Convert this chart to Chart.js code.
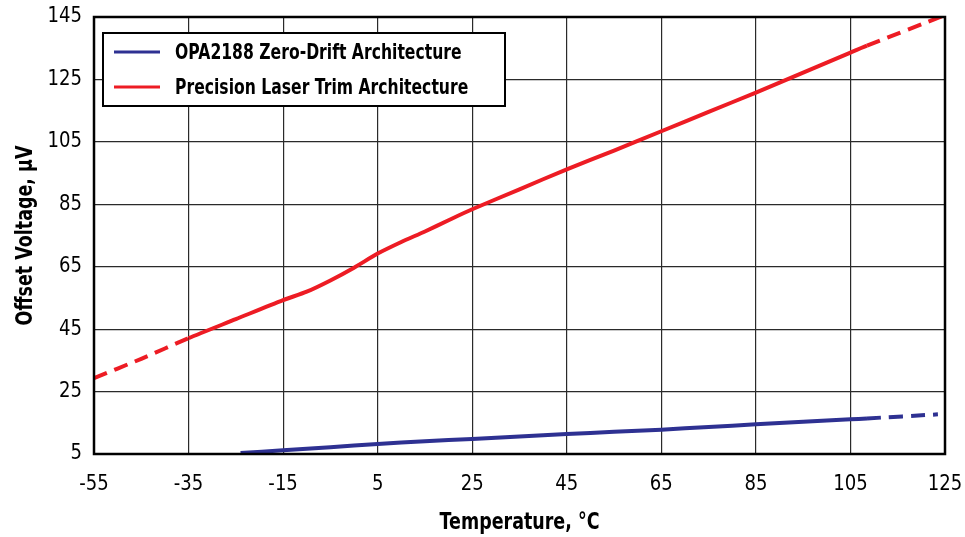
<!DOCTYPE html>
<html>
<head>
<meta charset="utf-8">
<script src="https://cdn.jsdelivr.net/npm/chart.js@4.4.1/dist/chart.umd.min.js"></script>
<style>
  html, body { margin: 0; padding: 0; background: #fff; }
  #wrap { width: 965px; height: 537px; }
</style>
</head>
<body>
<div id="wrap"><canvas id="drift"></canvas></div>
<script>
// values (temperature in °C, offset in µV)
var zeroDriftTemp = [-24, -15, -5, 5, 15, 25, 35, 45, 55, 65, 75, 85, 95, 105, 108.5, 123.5];
var zeroDriftUv   = [5.3, 6.2, 7.2, 8.2, 9.1, 9.8, 10.6, 11.4, 12.1, 12.8, 13.65, 14.5, 15.3, 16.1, 16.4, 17.7];

var laserTemp = [-55, -45, -35, -25, -15, -10, -5, 0, 5, 10, 15, 20, 25, 35, 45, 55, 65, 75, 85, 95, 105, 108.5, 125];
var laserUv   = [29.3, 35.5, 42.1, 48.2, 54.3, 57.0, 60.6, 64.7, 69.2, 72.9, 76.3, 79.9, 83.4, 89.8, 96.2, 102.2, 108.4, 114.6, 120.8, 127.2, 133.6, 135.8, 145.6];

var seriesNames = ['OPA2188 Zero-Drift Architecture', 'Precision Laser Trim Architecture'];
var xTicks = [-55, -35, -15, 5, 25, 45, 65, 85, 105, 125];
var yTicks = [5, 25, 45, 65, 85, 105, 125, 145];

// measured range is -35..108.5, outside of it the curves are extrapolated (dashed)
var solidFrom = -35, solidTo = 108.5;

var FONT = "'DejaVu Sans', sans-serif";
var BLUE = '#2e3192';
var RED = '#ed1c24';

function toPoints(xs, ys) {
    return xs.map(function (x, i) { return { x: x, y: ys[i] }; });
}

function dashOutside(ctx) {
    if (ctx.p0.parsed.x < solidFrom || ctx.p1.parsed.x > solidTo) return [14, 8];
    return undefined;
}

// no condensed font installed, so squeeze text horizontally around its anchor
var narrowText = {
    id: 'narrowText',
    beforeInit: function (chart) {
        var c = chart.ctx;
        var orig = c.fillText.bind(c);
        c.fillText = function (txt, x, y, maxW) {
            var f = c.narrow || (/bold/.test(c.font) ? 0.76 : 0.86);
            c.save();
            c.translate(x, y);
            c.scale(f, 1);
            if (maxW !== undefined) orig(txt, 0, 0, maxW / f);
            else orig(txt, 0, 0);
            c.restore();
        };
    }
};

// frame around plot + boxed legend inside plot area
var framePlugin = {
    id: 'frame',
    afterDraw: function (chart) {
        var c = chart.ctx, a = chart.chartArea;
        c.save();
        c.strokeStyle = '#000';
        c.lineWidth = 2.5;
        c.strokeRect(a.left, a.top, a.right - a.left, a.bottom - a.top);

        // legend
        var bx = 103, by = 33, bw = 402, bh = 73;
        c.fillStyle = '#fff';
        c.fillRect(bx, by, bw, bh);
        c.lineWidth = 2;
        c.strokeRect(bx, by, bw, bh);
        c.font = 'bold 22px ' + FONT;
        c.textBaseline = 'middle';
        c.textAlign = 'left';
        c.narrow = 0.71;
        chart.data.datasets.forEach(function (ds, i) {
            var y = 52 + i * 35;
            c.strokeStyle = ds.borderColor;
            c.lineWidth = 3;
            c.beginPath();
            c.moveTo(114, y);
            c.lineTo(160, y);
            c.stroke();
            c.fillStyle = '#000';
            c.fillText(ds.label, 175, y + 1);
        });
        c.narrow = 0;
        c.restore();
    }
};

new Chart(document.getElementById('drift'), {
    type: 'line',
    data: {
        datasets: [{
            label: seriesNames[0],
            data: toPoints(zeroDriftTemp, zeroDriftUv),
            borderColor: BLUE,
            borderWidth: 4,
            pointRadius: 0,
            tension: 0.25,
            segment: { borderDash: dashOutside }
        }, {
            label: seriesNames[1],
            data: toPoints(laserTemp, laserUv),
            borderColor: RED,
            borderWidth: 4,
            pointRadius: 0,
            tension: 0.25,
            segment: { borderDash: dashOutside }
        }]
    },
    options: {
        responsive: true,
        maintainAspectRatio: false,
        animation: false,
        layout: { padding: { top: 17, right: 20, left: 0, bottom: 0 } },
        plugins: {
            legend: { display: false },
            tooltip: { enabled: false }
        },
        scales: {
            x: {
                type: 'linear',
                min: -55,
                max: 125,
                afterBuildTicks: function (s) { s.ticks = xTicks.map(function (v) { return { value: v }; }); },
                afterFit: function (s) { s.height = 83; s.paddingLeft = 0; s.paddingRight = 0; },
                ticks: { color: '#000', font: { family: FONT, size: 21 }, padding: 18, maxRotation: 0 },
                grid: { color: '#2a2a2a', lineWidth: 1.2, drawTicks: false },
                border: { display: false },
                title: {
                    display: true,
                    text: 'Temperature, °C',
                    color: '#000',
                    font: { family: FONT, size: 23, weight: 'bold' },
                    padding: { top: 6, bottom: 0 }
                }
            },
            y: {
                min: 5,
                max: 145,
                afterBuildTicks: function (s) { s.ticks = yTicks.map(function (v) { return { value: v }; }); },
                afterFit: function (s) { s.width = 94; s.paddingTop = 0; s.paddingBottom = 0; },
                ticks: { color: '#000', font: { family: FONT, size: 21 }, padding: 12 },
                grid: { color: '#2a2a2a', lineWidth: 1.2, drawTicks: false },
                border: { display: false },
                title: {
                    display: true,
                    text: 'Offset Voltage, µV',
                    color: '#000',
                    font: { family: FONT, size: 23, weight: 'bold' },
                    padding: { top: 12, bottom: 0 }
                }
            }
        }
    },
    plugins: [narrowText, framePlugin]
});
</script>
</body>
</html>
